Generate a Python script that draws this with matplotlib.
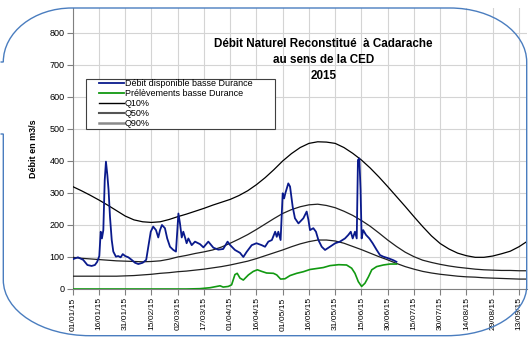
import numpy as np
import pandas as pd
import matplotlib
matplotlib.use('Agg')
import matplotlib.pyplot as plt
from matplotlib.path import Path
from matplotlib.patches import PathPatch, Rectangle
from matplotlib.lines import Line2D

plt.rcParams['font.family'] = ['Liberation Sans', 'DejaVu Sans']

# jours depuis le 01/01/2015 et débits (m3/s)
debit_jours = [0, 3, 6, 8.4, 10.8, 12.7, 14, 15.2, 16, 16.7, 17.5, 18.3, 19, 19.8, 20.5, 21.3,
               22.3, 23.2, 24.7, 26, 27.4, 28.6, 30, 31.8, 33.7, 35.6, 37.5, 40, 42, 43.2, 44.6,
               46, 47.6, 48.9, 49.9, 51, 52.7, 54, 55.6, 57.5, 59, 59.8, 60.4, 61.3, 62.3, 63.2,
               64.2, 65.1, 66.1, 68, 69.9, 72.8, 74.7, 77.5, 80.4, 83.2, 86, 88.5, 90, 92.7, 95.6,
               97.5, 99.4, 102.3, 105, 108, 109.9, 111.8, 113.8, 115.7, 116.6, 117.5, 118.8, 120,
               120.8, 121.5, 123.2, 124.2, 125.7, 127, 129, 131.8, 133.7, 134.7, 135.6, 137.5, 139,
               140.4, 142.3, 144.2, 147, 150, 152.7, 155.6, 157.5, 158.9, 160, 161.3, 162.3, 163,
               163.8, 164.5, 165.1, 166, 167.6, 169.5, 171.4, 173.7, 175.6, 177.5, 180.4, 183.2, 185]
debit_dispo = [93, 99, 91, 75, 72, 75, 85, 103, 179, 158, 184, 340, 398, 356, 309, 226,
               153, 117, 101, 103, 99, 109, 103, 99, 91, 82, 78, 82, 91, 132, 179,
               195, 184, 161, 184, 200, 190, 158, 132, 122, 117, 184, 236, 205, 161, 179,
               161, 143, 158, 137, 148, 140, 130, 148, 129, 123, 125, 148, 137, 122, 113,
               100, 116, 137, 143, 137, 132, 148, 153, 179, 163, 179, 153, 299,
               283, 299, 330, 320, 257, 221, 205, 221, 242, 216, 184, 190, 179,
               153, 132, 122, 132, 143, 148, 158, 169, 179, 158, 179, 158, 403,
               408, 309, 158, 184, 169, 158, 143, 122, 106, 101, 96, 90, 85]

prel_jours = [0, 65, 72.7, 78.5, 84.2, 86, 88.9, 90.8, 92.7, 94, 95.6, 97.5, 100.4, 103.2, 105.5,
              108, 110.8, 114.7, 116.6, 118.8, 121.3, 124.2, 128, 131.8, 135.6, 139.4, 143.2, 147,
              152, 156.5, 159.4, 161.3, 163.2, 165.1, 167, 169, 170.9, 173.7, 177.5, 181.3, 185]
prelevements = [0, 0, 1, 4, 10, 6, 8, 13, 45, 49, 34, 28, 44, 55, 60,
                55, 50, 49, 44, 31, 32, 42, 49, 54, 61, 64, 67, 73,
                76, 75, 65, 49, 23, 8, 18, 38, 60, 70, 75, 78, 78]

q_jours = list(range(0, 261, 5))
q10 = [320, 307, 293, 278, 262, 245, 228, 216, 210, 208, 210, 217, 226, 234, 243, 252, 262,
       271, 280, 292, 307, 326, 348, 373, 400, 423, 442, 455, 460, 459, 455, 442, 424, 403,
       378, 350, 320, 289, 258, 226, 195, 166, 142, 125, 112, 104, 99, 99, 103, 110, 118, 132,
       150]
q50 = [99, 96, 94, 92, 90, 88, 87, 86, 85, 86, 88, 93, 100, 105, 111, 116, 122, 131, 143, 156,
       170, 186, 203, 220, 236, 248, 257, 263, 265, 261, 254, 243, 230, 214, 196, 175, 153, 133,
       115, 101, 90, 83, 77, 72, 68, 65, 62, 60, 59, 58, 58, 57, 57]
q90 = [40, 40, 40, 40, 40, 40, 41, 42, 44, 46, 49, 51, 54, 56, 59, 62, 66, 70, 75, 81, 87, 95,
       104, 113, 122, 132, 141, 148, 153, 153, 150, 143, 133, 123, 112, 101, 91, 80, 70, 62, 55,
       50, 46, 43, 40, 38, 37, 35, 34, 33, 32, 31, 31]

debut = pd.Timestamp('2015-01-01')


def dates(jours):
    return debut + pd.to_timedelta(np.asarray(jours, dtype=float), unit='D')


W, H = 532, 337
fig = plt.figure(figsize=(W / 100, H / 100), dpi=100)
ax = fig.add_axes([72.7 / W, 1 - 289 / H, (527 - 72.7) / W, (289 - 8) / H])

ax.plot(dates(q_jours), q10, color='black', lw=0.9, zorder=3)
ax.plot(dates(q_jours), q50, color='#202020', lw=0.9, zorder=3)
ax.plot(dates(q_jours), q90, color='#202020', lw=0.9, zorder=3)
ax.plot(dates(prel_jours), prelevements, color='#119911', lw=1.2, zorder=4)
ax.plot(dates(debit_jours), debit_dispo, color='#0a1a8c', lw=1.3, zorder=5)

ticks = pd.date_range(debut, periods=18, freq='15D')
ax.set_xticks(ticks)
ax.set_xticklabels([t.strftime('%d/%m/%y') for t in ticks], rotation=90, fontsize=6)
ax.set_xlim(debut, debut + pd.Timedelta(days=259.6))
ax.set_ylim(0, 878)
ax.set_yticks(range(0, 900, 100))
ax.tick_params(axis='y', labelsize=6.5, length=4, color='#808080', pad=2)
ax.tick_params(axis='x', length=4, color='#808080', pad=2)
ax.grid(True, color='#d4d4d4', lw=0.8)
ax.set_axisbelow(True)
for s in ['top', 'right']:
    ax.spines[s].set_visible(False)
for s in ['left', 'bottom']:
    ax.spines[s].set_color('#808080')
    ax.spines[s].set_linewidth(0.8)

fig.text(33 / W, 1 - 149 / H, 'Débit en m3/s', rotation=90, fontsize=6.5,
         fontweight='bold', ha='center', va='center')
fig.text(323.5 / W, 1 - 38 / H, 'Débit Naturel Reconstitué  à Cadarache\nau sens de la CED\n2015',
         fontsize=8.4, fontweight='bold', ha='center', va='top', linespacing=1.45)

# légende : cadre blanc puis entrées
fig.patches.append(Rectangle((86 / W, 1 - 129 / H), (275 - 86) / W, (129 - 78.7) / H,
                             transform=fig.transFigure, facecolor='white',
                             edgecolor='#404040', lw=0.8, zorder=9))
handles = [Line2D([], [], color='#0a1a8c', lw=1.3),
           Line2D([], [], color='#119911', lw=1.3),
           Line2D([], [], color='black', lw=1.0),
           Line2D([], [], color='#555555', lw=1.5),
           Line2D([], [], color='#8a8a8a', lw=1.8)]
labels = ['Débit disponible basse Durance', 'Prélèvements basse Durance',
          'Q10%', 'Q50%', 'Q90%']
leg = fig.legend(handles, labels, loc='upper left', bbox_to_anchor=(99 / W, 1 - 79.3 / H),
                 bbox_transform=fig.transFigure, fontsize=6.5, frameon=False,
                 borderpad=0, labelspacing=0.1, handlelength=2.75, handletextpad=0.1,
                 borderaxespad=0)
leg.set_zorder(10)

# cadre arrondi autour du graphique
k = 0.5523
pts = [(0.5, 62), (3.3, 62),
       (3.3, 62 - k * 54), (72 - k * 69, 8), (72, 8),
       (450, 8),
       (450 + k * 77, 8), (526.7, 62 - k * 54), (526.7, 62),
       (526.7, 286),
       (526.7, 286 + k * 50), (447 + k * 80, 335.7), (447, 335.7),
       (90, 335.7),
       (90 - k * 87, 335.7), (3.3, 280 + k * 56), (3.3, 280),
       (3.3, 134), (0.5, 134)]
codes = [Path.MOVETO, Path.LINETO,
         Path.CURVE4, Path.CURVE4, Path.CURVE4,
         Path.LINETO,
         Path.CURVE4, Path.CURVE4, Path.CURVE4,
         Path.LINETO,
         Path.CURVE4, Path.CURVE4, Path.CURVE4,
         Path.LINETO,
         Path.CURVE4, Path.CURVE4, Path.CURVE4,
         Path.LINETO, Path.LINETO]
cadre = Path([(x / W, 1 - y / H) for x, y in pts], codes)
fig.patches.append(PathPatch(cadre, transform=fig.transFigure, facecolor='none',
                             edgecolor='#4a7dbf', lw=1.0, zorder=20))

fig.savefig('out.png', dpi=100)
